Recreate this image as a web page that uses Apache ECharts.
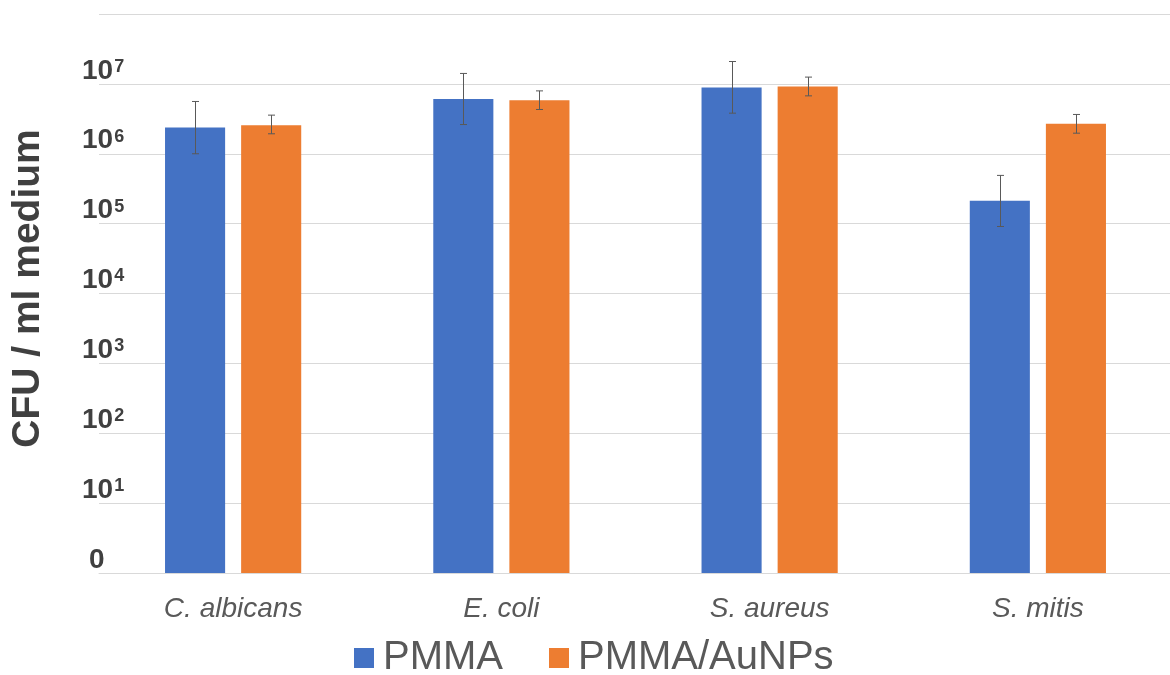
<!DOCTYPE html>
<html>
<head>
<meta charset="utf-8">
<script src="https://cdn.jsdelivr.net/npm/echarts@6/dist/echarts.min.js"></script>
<style>
html,body{margin:0;padding:0;background:#fff;}
#chart{width:1170px;height:675px;}
</style>
</head>
<body>
<div id="chart"></div>
<script>
const categories = ['C. albicans', 'E. coli', 'S. aureus', 'S. mitis'];
const seriesNames = ['PMMA', 'PMMA/AuNPs'];
const pmma = [2.38e6, 6.1e6, 8.9e6, 2.12e5];
const pmmaLow = [1.0e6, 2.62e6, 3.81e6, 9.1e4];
const pmmaHigh = [5.6e6, 1.41e7, 2.09e7, 4.9e5];
const aunps = [2.56e6, 5.85e6, 9.18e6, 2.68e6];
const aunpsLow = [1.93e6, 4.3e6, 6.74e6, 1.97e6];
const aunpsHigh = [3.57e6, 7.94e6, 1.25e7, 3.65e6];
const yMin = 1, yMax = 1e8;

const FONT = '"Liberation Sans", Arial, sans-serif';
const BAR_FRAC = 0.224;
const GAP_FRAC = 0.0597;

function errorSeries(name, low, high, sign) {
  const data = categories.map((c, i) => [i, low[i], high[i]]);
  return {
    type: 'custom',
    name: name + ' err',
    silent: true,
    z: 10,
    renderItem: function (params, api) {
      const i = api.value(0);
      const band = api.size([1, 0])[0];
      const off = sign * band * (BAR_FRAC / 2 + GAP_FRAC / 2);
      const pLow = api.coord([i, api.value(1)]);
      const pHigh = api.coord([i, api.value(2)]);
      const x = Math.round(pLow[0] + off) + 0.5;
      const cap = 3.5;
      const st = { stroke: '#595959', lineWidth: 1 };
      return {
        type: 'group',
        children: [
          { type: 'line', shape: { x1: x, y1: pLow[1], x2: x, y2: pHigh[1] }, style: st },
          { type: 'line', shape: { x1: x - cap, y1: pLow[1], x2: x + cap, y2: pLow[1] }, style: st },
          { type: 'line', shape: { x1: x - cap, y1: pHigh[1], x2: x + cap, y2: pHigh[1] }, style: st }
        ]
      };
    },
    encode: { x: 0, y: [1, 2] },
    data: data
  };
}

const chart = echarts.init(document.getElementById('chart'));
chart.setOption({
  animation: false,
  backgroundColor: '#ffffff',
  color: ['#4472C4', '#ED7D31'],
  grid: { left: 99, top: 14, width: 1073, height: 559, containLabel: false, outerBoundsMode: 'none' },
  legend: {
    data: seriesNames,
    top: 633,
    left: 349,
    itemWidth: 20,
    itemHeight: 20,
    itemGap: 46,
    icon: 'rect',
    textStyle: { fontSize: 40, color: '#595959', fontFamily: FONT, padding: [0, 0, 0, 4] }
  },
  xAxis: {
    type: 'category',
    data: categories,
    axisLine: { show: true, lineStyle: { color: '#d9d9d9', width: 1 } },
    axisTick: { show: false },
    axisLabel: { fontSize: 28, fontStyle: 'italic', color: '#595959', fontFamily: FONT, margin: 22 }
  },
  yAxis: {
    type: 'log',
    logBase: 10,
    min: yMin,
    max: yMax,
    name: 'CFU / ml medium',
    nameLocation: 'middle',
    nameGap: 51,
    nameTextStyle: { fontSize: 39, fontWeight: 'bold', color: '#404040', fontFamily: FONT, padding: [0, 0, 0, 10] },
    axisLine: { show: false },
    axisTick: { show: false },
    splitLine: { show: true, lineStyle: { color: '#d9d9d9', width: 1 } },
    axisLabel: {
      align: 'left',
      verticalAlign: 'bottom',
      margin: 17,
      formatter: function (v) {
        if (v >= yMax) return '';
        const e = Math.round(Math.log10(v));
        if (e === 0) return '{z|0}';
        return '{b|10}{s|' + e + '}';
      },
      rich: {
        b: { fontSize: 28, fontWeight: 'bold', color: '#404040', fontFamily: FONT, lineHeight: 26 },
        s: { fontSize: 18, fontWeight: 'bold', color: '#404040', fontFamily: FONT, verticalAlign: 'top', lineHeight: 18, padding: [0, 0, 9, 1] },
        z: { fontSize: 28, fontWeight: 'bold', color: '#404040', fontFamily: FONT, lineHeight: 26, padding: [0, 0, 0, 7] }
      }
    }
  },
  series: [
    { type: 'bar', name: seriesNames[0], data: pmma, barWidth: (BAR_FRAC * 100) + '%', barGap: (GAP_FRAC / BAR_FRAC * 100) + '%' },
    { type: 'bar', name: seriesNames[1], data: aunps, barWidth: (BAR_FRAC * 100) + '%' },
    errorSeries(seriesNames[0], pmmaLow, pmmaHigh, -1),
    errorSeries(seriesNames[1], aunpsLow, aunpsHigh, 1)
  ]
});
</script>
</body>
</html>
